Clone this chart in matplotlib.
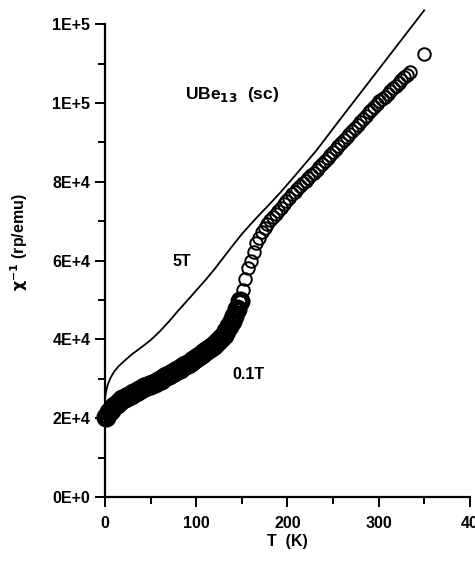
import numpy as np
import matplotlib.pyplot as plt

# 0.1T data (circles): T in K, chi^-1 in units of 1E+4
t_low = [1, 4, 7, 10, 13, 16, 19, 22, 25, 28, 31, 34, 37, 40, 43, 46, 49, 52,
         55, 58, 61, 64, 67, 70, 73, 76, 79, 82, 85, 88, 91, 94, 97, 100, 103,
         106, 109, 112, 115, 118, 121, 124, 127, 130, 133, 136, 139, 142, 145,
         148, 151, 154, 157, 160, 163, 166, 169, 172, 175, 178, 181, 184, 187,
         190, 193, 196, 199, 202, 205, 208, 211, 214, 217, 220, 223, 226, 229,
         232, 235, 238, 241, 244, 247, 250, 253, 256, 259, 262, 265, 268, 271,
         274, 277, 280, 283, 286, 289, 292, 295, 298, 301, 304, 307, 310, 313,
         316, 319, 322, 325, 328, 331, 334, 350]
chi_low = [2.02, 2.15, 2.22, 2.30, 2.37, 2.43, 2.48, 2.52, 2.56, 2.59, 2.63,
           2.67, 2.71, 2.75, 2.78, 2.81, 2.84, 2.87, 2.90, 2.94, 2.97, 3.01,
           3.06, 3.10, 3.14, 3.18, 3.22, 3.26, 3.30, 3.34, 3.38, 3.42, 3.47,
           3.52, 3.57, 3.63, 3.68, 3.73, 3.78, 3.84, 3.89, 3.96, 4.03, 4.12,
           4.22, 4.33, 4.46, 4.60, 4.78, 4.98, 5.25, 5.52, 5.80, 6.00, 6.22,
           6.45, 6.58, 6.72, 6.82, 6.92, 7.02, 7.10, 7.18, 7.25, 7.34, 7.43,
           7.52, 7.60, 7.68, 7.75, 7.82, 7.89, 7.96, 8.02, 8.09, 8.16, 8.23,
           8.30, 8.38, 8.45, 8.53, 8.60, 8.68, 8.75, 8.83, 8.90, 8.98, 9.05,
           9.13, 9.21, 9.29, 9.37, 9.44, 9.52, 9.60, 9.68, 9.76, 9.83, 9.90,
           9.97, 10.04, 10.10, 10.16, 10.22, 10.30, 10.37, 10.43, 10.51, 10.58,
           10.65, 10.72, 10.79, 11.25]

# 5T data (solid line)
t_high = [0, 1, 3, 6, 10, 15, 22, 30, 40, 50, 60, 70, 80, 90, 100, 110, 120,
          130, 140, 150, 160, 170, 180, 192, 210, 232, 260, 290, 320, 350]
chi_high = [2.5, 2.65, 2.85, 3.02, 3.18, 3.32, 3.47, 3.63, 3.8, 3.98, 4.2,
            4.45, 4.72, 4.98, 5.24, 5.5, 5.78, 6.08, 6.38, 6.67, 6.93, 7.18,
            7.42, 7.72, 8.2, 8.8, 9.65, 10.55, 11.45, 12.35]

y_ticks = [0, 2e4, 4e4, 6e4, 8e4, 1e5, 1.2e5]
y_labels = ["0E+0", "2E+4", "4E+4", "6E+4", "8E+4", "1E+5", "1E+5"]
x_ticks = [0, 100, 200, 300, 400]
x_labels = ["0", "100", "200", "300", "40"]

plt.rcParams['font.family'] = ['Liberation Sans', 'DejaVu Sans']
plt.rcParams['font.weight'] = 'bold'

fig = plt.figure(figsize=(4.75, 5.62), dpi=100)
ax = fig.add_axes([0.221, 0.1157, 0.768, 0.8413])

t = np.array(t_low)
chi = np.array(chi_low) * 1e4
dense = t < 150  # low-T points are so packed they print as a solid band

ax.plot(np.array(t_high), np.array(chi_high) * 1e4, color="black", lw=1.3,
        clip_on=False)
ax.plot(t[dense], chi[dense], "o", ms=10.5, mfc="none", mec="black", mew=4,
        clip_on=False)
ax.plot(t[~dense], chi[~dense], "o", ms=9, mfc="none", mec="black", mew=1.4,
        clip_on=False)

ax.set_xlim(0, 400)
ax.set_ylim(0, 1.2e5)
ax.set_xticks(x_ticks)
ax.set_xticklabels(x_labels)
ax.set_xticks([50, 150, 250, 350], minor=True)
ax.set_yticks(y_ticks)
ax.set_yticklabels(y_labels)
ax.set_yticks([1e4, 3e4, 5e4, 7e4, 9e4, 1.1e5], minor=True)

for s in ["top", "right"]:
    ax.spines[s].set_visible(False)
for s in ["left", "bottom"]:
    ax.spines[s].set_linewidth(1.6)

ax.tick_params(which="major", length=7, width=1.4, labelsize=11.5)
ax.tick_params(axis="x", which="major", pad=7)
ax.tick_params(which="minor", length=5, width=1.4)

ax.set_xlabel("T  (K)", fontsize=11.5, fontweight="bold", labelpad=2)
ax.set_ylabel("$\\mathbf{\\chi^{-1}}$ (rp/emu)", fontsize=11.5,
              fontweight="bold")
ax.yaxis.set_label_coords(-0.205, 0.54)

ax.text(88, 1.01e5, "UBe$_{\\mathbf{13}}$  (sc)", fontsize=12.5,
        fontweight="bold")
ax.text(74, 5.85e4, "5T", fontsize=11.5, fontweight="bold")
ax.text(140, 3.0e4, "0.1T", fontsize=11.5, fontweight="bold")

fig.savefig("out.png", dpi=100)
